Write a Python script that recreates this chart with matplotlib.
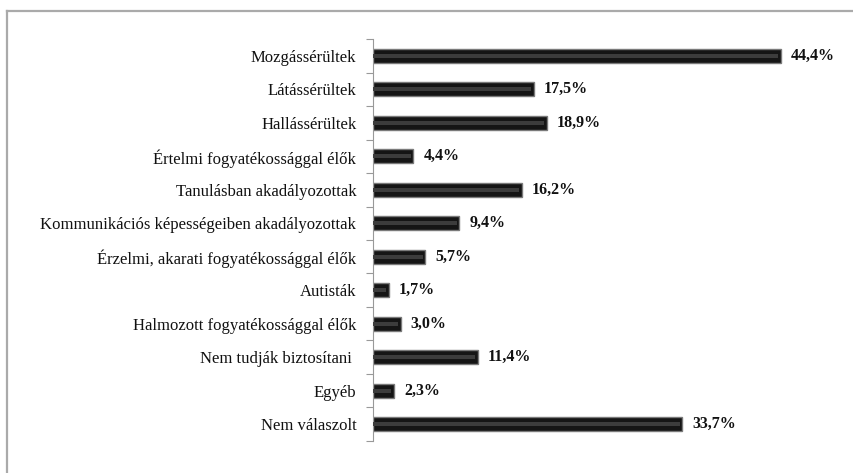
import matplotlib.pyplot as plt
from matplotlib.lines import Line2D

categories = ['Mozgássérültek', 'Látássérültek', 'Hallássérültek',
              'Értelmi fogyatékossággal élők', 'Tanulásban akadályozottak',
              'Kommunikációs képességeiben akadályozottak',
              'Érzelmi, akarati fogyatékossággal élők', 'Autisták',
              'Halmozott fogyatékossággal élők', 'Nem tudják biztosítani ',
              'Egyéb', 'Nem válaszolt']
values = [44.4, 17.5, 18.9, 4.4, 16.2, 9.4, 5.7, 1.7, 3.0, 11.4, 2.3, 33.7]
value_labels = ['44,4%', '17,5%', '18,9%', '4,4%', '16,2%', '9,4%',
                '5,7%', '1,7%', '3,0%', '11,4%', '2,3%', '33,7%']

plt.rcParams['font.family'] = ['Liberation Serif', 'DejaVu Serif']

fig = plt.figure(figsize=(8.54, 4.73), dpi=100)
ax = fig.add_axes([0.4368, 0.0677, 0.5375, 0.8498])

y = list(range(len(categories)))
ax.barh(y, values, height=0.42, color='#151515', edgecolor='#7a7a7a', linewidth=1.0, zorder=2)
# glossy highlight stripe
ax.barh(y, [v - 0.3 for v in values], height=0.12, color='#3c3c3c', linewidth=0, zorder=3)

for yi, v, lab in zip(y, values, value_labels):
    ax.text(v + 1.1, yi, lab, va='center', ha='left', fontsize=11.5, fontweight='bold', color='#111')

ax.set_ylim(len(categories) - 0.5, -0.5)
ax.set_xlim(0, 50)
ax.set_yticks(y)
ax.set_yticklabels(categories, fontsize=12, color='#111')
ax.set_yticks([i - 0.5 for i in range(len(categories) + 1)], minor=True)
ax.tick_params(axis='y', which='major', length=0, pad=12)
ax.tick_params(axis='y', which='minor', length=5, color='#999999', width=0.8)
ax.set_xticks([])

for s in ['top', 'right', 'bottom']:
    ax.spines[s].set_visible(False)
ax.spines['left'].set_color('#999999')
ax.spines['left'].set_linewidth(0.8)

# chart area frame (only top and left visible in the crop)
fig.add_artist(Line2D([7 / 854, 1], [1 - 11 / 473, 1 - 11 / 473], color='#aaaaaa', linewidth=1.6))
fig.add_artist(Line2D([7 / 854, 7 / 854], [0, 1 - 11 / 473], color='#aaaaaa', linewidth=1.6))

fig.savefig('out.png', dpi=100, facecolor='white')
